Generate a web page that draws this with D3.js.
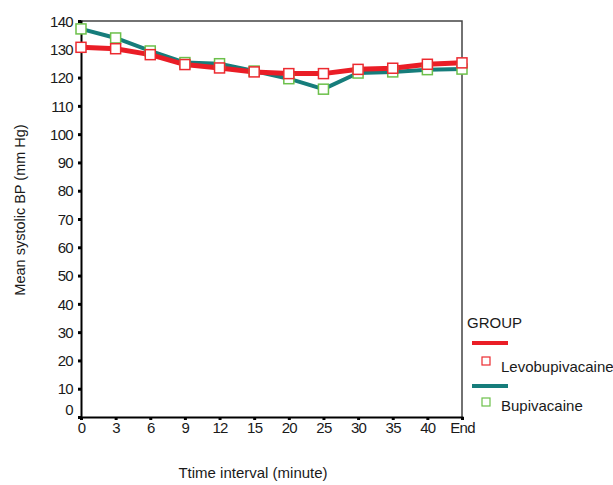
<!DOCTYPE html>
<html>
<head>
<meta charset="utf-8">
<title>Mean systolic BP</title>
<style>
  body { margin: 0; background: #fff; }
  svg { display: block; font-family: "Liberation Sans", Arial, sans-serif; }
  .tick text { font-size: 15px; fill: #1a1a1a; letter-spacing: -0.7px; }
</style>
</head>
<body>
<div id="chart"></div>
<script src="https://d3js.org/d3.v7.min.js"></script>
<script>
// Time points
const timeLabels = ["0", "3", "6", "9", "12", "15", "20", "25", "30", "35", "40", "End"];
// Mean systolic BP per group
const levobupivacaine = [130.7, 130.2, 128.1, 124.6, 123.4, 122.0, 121.4, 121.4, 122.9, 123.3, 124.7, 125.2];
const bupivacaine = [137.2, 134.0, 129.4, 125.3, 124.9, 122.3, 119.6, 115.9, 121.6, 122.0, 122.8, 123.0];
const yTicks = [0, 10, 20, 30, 40, 50, 60, 70, 80, 90, 100, 110, 120, 130, 140];

const width = 613, height = 485;
const plotLeft = 81, plotRight = 462, plotTop = 21, plotBottom = 417;

const svg = d3.select("#chart").append("svg")
  .attr("width", width)
  .attr("height", height);

const x = d3.scalePoint().domain(timeLabels).range([plotLeft, plotRight]);
const y = d3.scaleLinear().domain([0, 140]).range([plotBottom, plotTop]);

// frame (top and right)
svg.append("path")
  .attr("d", `M${plotLeft},${plotTop}H${plotRight}V${plotBottom}`)
  .attr("fill", "none")
  .attr("stroke", "#444")
  .attr("stroke-width", 1.5);

// y axis
const yAxis = svg.append("g")
  .attr("transform", `translate(${plotLeft},0)`)
  .call(d3.axisLeft(y).tickValues(yTicks).tickSize(3).tickPadding(5));
yAxis.select(".domain").attr("stroke", "#000").attr("stroke-width", 2);
yAxis.selectAll(".tick line").attr("stroke", "#000").attr("stroke-width", 3);
yAxis.selectAll(".tick text")
  .attr("dy", d => d === 0 ? "-0.2em" : "0.35em");

// x axis
const xAxis = svg.append("g")
  .attr("transform", `translate(0,${plotBottom})`)
  .call(d3.axisBottom(x).tickSize(3).tickPadding(1));
xAxis.select(".domain").attr("stroke", "#000").attr("stroke-width", 2);
xAxis.selectAll(".tick line").attr("stroke", "#000").attr("stroke-width", 3);
xAxis.selectAll(".tick text").attr("dy", "0.8em");

const line = d3.line()
  .x((d, i) => x(timeLabels[i]))
  .y(d => y(d));

const series = [
  { name: "Bupivacaine", values: bupivacaine, line: "#167d7b", marker: "#6cc04a" },
  { name: "Levobupivacaine", values: levobupivacaine, line: "#ea1d26", marker: "#ec2a30" }
];

series.forEach(s => {
  svg.append("path")
    .datum(s.values)
    .attr("d", line)
    .attr("fill", "none")
    .attr("stroke", s.line)
    .attr("stroke-width", s.name === "Bupivacaine" ? 4 : 5);
});

series.forEach(s => {
  svg.append("g")
    .selectAll("rect")
    .data(s.values)
    .join("rect")
    .attr("x", (d, i) => x(timeLabels[i]) - 5)
    .attr("y", d => y(d) - 5)
    .attr("width", 10)
    .attr("height", 10)
    .attr("fill", "#fff")
    .attr("stroke", s.marker)
    .attr("stroke-width", 1.5);
});

// axis titles
svg.append("text")
  .attr("transform", "translate(25,210) rotate(-90)")
  .attr("text-anchor", "middle")
  .attr("font-size", 14.5)
  .attr("fill", "#1a1a1a")
  .text("Mean systolic BP (mm Hg)");

svg.append("text")
  .attr("x", 253)
  .attr("y", 478)
  .attr("text-anchor", "middle")
  .attr("font-size", 15)
  .attr("fill", "#1a1a1a")
  .text("Ttime interval (minute)");

// legend
const legend = svg.append("g");
legend.append("text")
  .attr("x", 467).attr("y", 328)
  .attr("font-size", 15).attr("fill", "#1a1a1a")
  .text("GROUP");

const legendItems = [
  { s: series[1], lineY: 343, boxY: 361, textY: 372 },
  { s: series[0], lineY: 386, boxY: 402, textY: 411 }
];
legendItems.forEach(({ s, lineY, boxY, textY }) => {
  legend.append("line")
    .attr("x1", 472).attr("x2", 508)
    .attr("y1", lineY).attr("y2", lineY)
    .attr("stroke", s.line).attr("stroke-width", 4);
  legend.append("rect")
    .attr("x", 482).attr("y", boxY - 4)
    .attr("width", 8).attr("height", 8)
    .attr("fill", "#fff")
    .attr("stroke", s.marker).attr("stroke-width", 1.2);
  legend.append("text")
    .attr("x", 501).attr("y", textY)
    .attr("font-size", 15).attr("fill", "#1a1a1a")
    .text(s.name);
});
</script>
</body>
</html>
